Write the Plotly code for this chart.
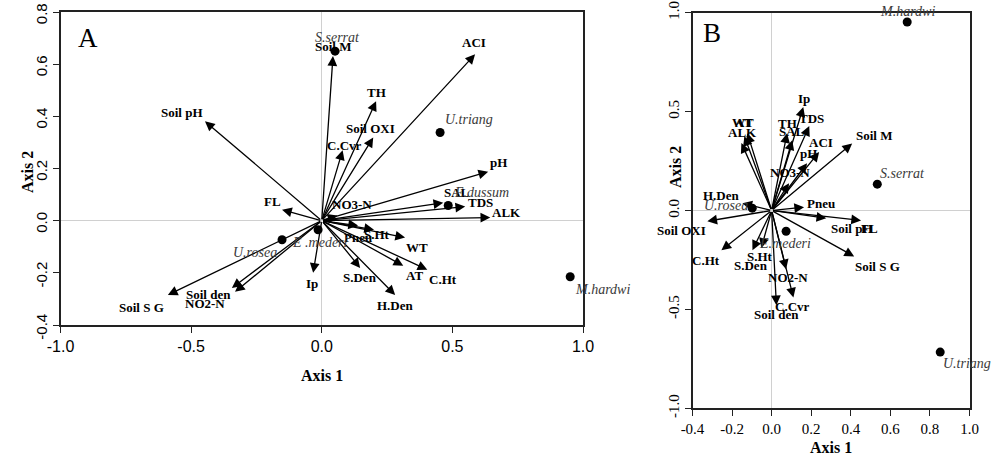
import plotly.graph_objects as go

# ---------------- Panel A data ----------------
A_vars = ["Soil M", "ACI", "TH", "Soil OXI", "C.Cvr", "pH", "SAL", "TDS", "ALK", "NO3-N",
          "FL", "Soil pH", "Soil S G", "Soil den", "NO2-N", "Ip", "S.Den", "H.Den", "AT",
          "C.Ht", "WT", "Pneu", "S.Ht"]
A_vx = [0.043, 0.587, 0.208, 0.197, 0.080, 0.637, 0.465, 0.549, 0.645, 0.060,
        -0.152, -0.447, -0.589, -0.344, -0.332, -0.033, 0.147, 0.281, 0.312,
        0.404, 0.319, 0.139, 0.200]
A_vy = [0.631, 0.638, 0.458, 0.319, 0.270, 0.188, 0.069, 0.054, 0.012, 0.020,
        0.042, 0.381, -0.285, -0.258, -0.273, -0.200, -0.181, -0.285, -0.173,
        -0.188, -0.065, -0.019, -0.035]
A_species = ["S.serrat", "U.triang", "E.dussum", "U.rosea", "E .mederi", "M.hardwi"]
A_sx = [0.051, 0.453, 0.484, -0.152, -0.014, 0.951]
A_sy = [0.650, 0.338, 0.058, -0.073, -0.035, -0.215]
A_xticks = [-1.0, -0.5, 0.0, 0.5, 1.0]
A_xticktext = ["-1.0", "-0.5", "0.0", "0.5", "1.0"]
A_yticks = [-0.4, -0.2, 0.0, 0.2, 0.4, 0.6, 0.8]
A_yticktext = ["-0.4", "-0.2", "0.0", "0.2", "0.4", "0.6", "0.8"]

# ---------------- Panel B data ----------------
B_vars = ["Ip", "TDS", "TH", "SAL", "WT", "AT", "ALK", "ACI", "pH", "NO3-N", "Soil M",
          "Pneu", "H.Den", "Soil OXI", "C.Ht", "S.Den", "S.Ht", "NO2-N", "C.Cvr",
          "Soil den", "Soil pH", "FL", "Soil S G"]
B_vx = [0.160, 0.190, 0.078, 0.104, -0.123, -0.138, -0.153, 0.240, 0.179, 0.088, 0.407,
        0.164, -0.148, -0.325, -0.254, -0.097, -0.052, 0.073, 0.110,
        0.024, 0.276, 0.452, 0.417]
B_vy = [0.523, 0.427, 0.391, 0.355, 0.391, 0.376, 0.341, 0.296, 0.239, 0.138, 0.339,
        0.017, 0.037, -0.054, -0.201, -0.201, -0.189, -0.297, -0.440,
        -0.479, -0.039, -0.050, -0.232]
B_species = ["U.rosea", "S.serrat", "M.hardwi", "U.triang", "E.mederi"]
B_sx = [-0.098, 0.534, 0.685, 0.852, 0.073]
B_sy = [0.012, 0.133, 0.953, -0.716, -0.105]
B_xticks = [-0.4, -0.2, 0.0, 0.2, 0.4, 0.6, 0.8, 1.0]
B_xticktext = ["-0.4", "-0.2", "0.0", "0.2", "0.4", "0.6", "0.8", "1.0"]
B_yticks = [-1.0, -0.5, 0.0, 0.5, 1.0]
B_yticktext = ["-1.0", "-0.5", "0.0", "0.5", "1.0"]

# ---------------- label placement (pixel offsets: right, down) ----------------
A_var_off = {"Soil M": (0, -10), "ACI": (-1, -12), "TH": (0, -9), "Soil OXI": (-3, -9),
             "C.Cvr": (2, -5), "pH": (10, -9), "SAL": (14, -10), "TDS": (15, -4),
             "ALK": (16, -5), "NO3-N": (15, -11), "FL": (-10, -8), "Soil pH": (-23, -9),
             "Soil S G": (-26, 12), "Soil den": (-23, 7), "NO2-N": (-30, 12), "Ip": (-1, 11),
             "S.Den": (0, 10), "H.Den": (0, 10), "AT": (11, 10), "C.Ht": (16, 10),
             "WT": (12, 10), "Pneu": (0, 12), "S.Ht": (3, 5)}
A_sp_off = {"S.serrat": (2, -14), "U.triang": (29, -13), "E.dussum": (33, -13),
            "U.rosea": (-27, 13), "E .mederi": (2, 13), "M.hardwi": (32, 13)}
B_var_off = {"Ip": (1, -9), "TDS": (2, -8), "TH": (0, -10), "SAL": (0, -9), "WT": (-4, -11),
             "AT": (-1, -14), "ALK": (1, -11), "ACI": (2, -9), "pH": (1, -10),
             "NO3-N": (1, -11), "Soil M": (22, -8), "Pneu": (17, -4), "H.Den": (-21, -8),
             "Soil OXI": (-26, 9), "C.Ht": (-15, 10), "S.Den": (-1, 15), "S.Ht": (-1, 9),
             "NO2-N": (2, 8), "C.Cvr": (-1, 9), "Soil den": (0, 9), "Soil pH": (26, 10),
             "FL": (8, 8), "Soil S G": (23, 10)}
B_sp_off = {"U.rosea": (-26, -3), "S.serrat": (25, -11), "M.hardwi": (0, -10),
            "U.triang": (27, 11), "E.mederi": (-1, 12)}

W, H = 998, 458
SERIF = "Liberation Serif, Times New Roman, serif"
SANS = "Liberation Sans, Arial, sans-serif"

fig = go.Figure()
annotations = []


def add_panel(xref, yref, vars_, vx, vy, sp, sx, sy, var_off, sp_off):
    fig.add_trace(go.Scatter(x=sx, y=sy, mode="markers", xaxis=xref, yaxis=yref,
                             marker=dict(color="black", size=9), showlegend=False,
                             hoverinfo="skip"))
    for name, x, y in zip(vars_, vx, vy):
        annotations.append(dict(x=x, y=y, ax=0, ay=0, xref=xref, yref=yref,
                                axref=xref, ayref=yref, text="", showarrow=True,
                                arrowhead=2, arrowsize=1.5, arrowwidth=1.3,
                                arrowcolor="black", standoff=0))
    for name, x, y in zip(vars_, vx, vy):
        dx, dy = var_off[name]
        annotations.append(dict(x=x, y=y, xref=xref, yref=yref, text="<b>%s</b>" % name,
                                showarrow=False, xshift=dx, yshift=-dy,
                                xanchor="center", yanchor="middle",
                                font=dict(family=SERIF, size=13, color="black")))
    for name, x, y in zip(sp, sx, sy):
        dx, dy = sp_off[name]
        annotations.append(dict(x=x, y=y, xref=xref, yref=yref, text="<i>%s</i>" % name,
                                showarrow=False, xshift=dx, yshift=-dy,
                                xanchor="center", yanchor="middle",
                                font=dict(family=SERIF, size=14, color="#3a3a3a")))


add_panel("x", "y", A_vars, A_vx, A_vy, A_species, A_sx, A_sy, A_var_off, A_sp_off)
add_panel("x2", "y2", B_vars, B_vx, B_vy, B_species, B_sx, B_sy, B_var_off, B_sp_off)

axis_common = dict(showgrid=False, zeroline=True, zerolinecolor="#d0d0d0", zerolinewidth=1,
                   showline=True, linecolor="#222", linewidth=1.6, mirror=True,
                   ticks="outside", ticklen=6, tickwidth=1.2, tickcolor="#222",
                   tickmode="array", automargin=False, ticklabeloverflow="allow")

fig.update_layout(
    width=W, height=H, margin=dict(l=0, r=0, t=0, b=0, autoexpand=False),
    plot_bgcolor="white", paper_bgcolor="white",
    xaxis=dict(axis_common, domain=[60.5 / W, 583 / W], range=[-1.0, 1.0],
               tickvals=A_xticks, ticktext=A_xticktext,
               tickfont=dict(family=SANS, size=16, color="black"), anchor="y"),
    yaxis=dict(axis_common, domain=[1 - 325 / H, 1 - 12 / H], range=[-0.4, 0.8],
               tickvals=A_yticks, ticktext=A_yticktext, tickangle=-90, ticklabelshift=4,
               tickfont=dict(family=SANS, size=15, color="black"), anchor="x"),
    xaxis2=dict(axis_common, domain=[692.5 / W, 969.5 / W], range=[-0.4, 1.0],
                tickvals=B_xticks, ticktext=B_xticktext,
                tickfont=dict(family=SERIF, size=15, color="black"), anchor="y2"),
    yaxis2=dict(axis_common, domain=[1 - 408.3 / H, 1 - 12.7 / H], range=[-1.0, 1.0],
                tickvals=B_yticks, ticktext=B_yticktext, tickangle=-90,
                tickfont=dict(family=SERIF, size=15, color="black"), anchor="x2"),
)


# panel letters and axis titles
def paper_text(px, py, text, size, angle=0):
    return dict(x=px / W, y=1 - py / H, xref="paper", yref="paper", text=text,
                showarrow=False, textangle=angle, xanchor="center", yanchor="middle",
                font=dict(family=SERIF, size=size, color="black"))


annotations += [
    paper_text(88, 38, "A", 27),
    paper_text(712, 33, "B", 27),
    paper_text(322, 375, "<b>Axis 1</b>", 16),
    paper_text(27, 172, "<b>Axis 2</b>", 16, -90),
    paper_text(831, 447, "<b>Axis 1</b>", 16),
    paper_text(675, 167, "<b>Axis 2</b>", 16, -90),
]
fig.update_layout(annotations=annotations)

fig.write_html("out.html")
